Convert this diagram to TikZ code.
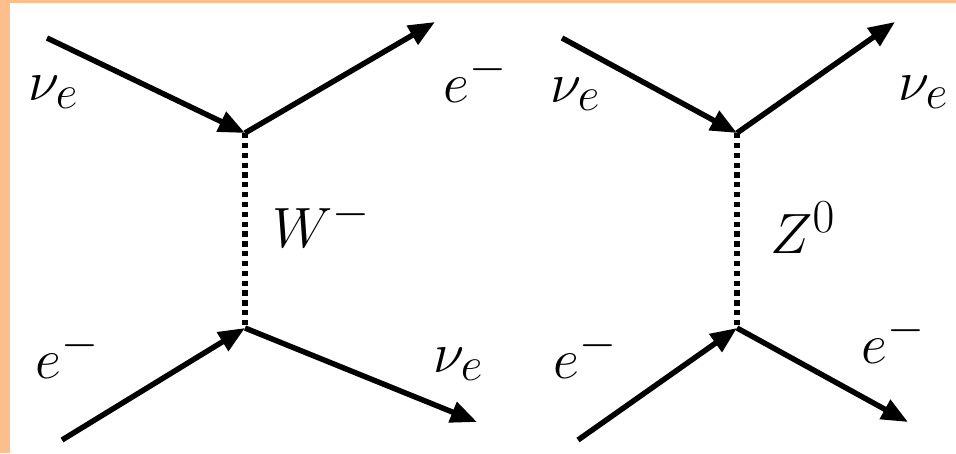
\documentclass[tikz,border=0pt]{standalone}
\usetikzlibrary{arrows.meta}
\definecolor{frameorange}{RGB}{252,190,140}
\begin{document}
\begin{tikzpicture}[
  x=0.02cm, y=-0.02cm,
  fermion/.style={line width=3.1pt, -{Triangle[length=15pt,width=12pt]}},
  boson/.style={line width=3.1pt, dash pattern=on 3pt off 2.6pt},
  lbl/.style={font=\Huge, scale=1.3, transform shape, inner sep=0pt, anchor=base west}
]
% frame
\fill[frameorange] (0,0) rectangle (956,453);
\fill[white] (10,3) rectangle (956,453);
\useasboundingbox (0,0) rectangle (956,453);

% left diagram: W exchange
\coordinate (wtop) at (245,133);
\coordinate (wbot) at (245,328);
\coordinate (wnuin) at (47,38);
\coordinate (weout) at (435,22);
\coordinate (wein) at (62,440);
\coordinate (wnuout) at (477,422);
\draw[fermion] (wnuin) -- (wtop);
\draw[fermion] (wtop) -- (weout);
\draw[fermion] (wein) -- (wbot);
\draw[fermion] (wbot) -- (wnuout);
\draw[boson] (wtop) -- (wbot);

\node[lbl] (wnuinlbl) at (28,100) {$\nu_e$};
\node[lbl] (weoutlbl) at (443,102) {$e^-$};
\node[lbl] (wlbl) at (272,247) {$W^-$};
\node[lbl] (weinlbl) at (35,378) {$e^-$};
\node[lbl] (wnuoutlbl) at (433,372) {$\nu_e$};

% right diagram: Z exchange
\coordinate (ztop) at (737,133);
\coordinate (zbot) at (737,328);
\coordinate (znuin) at (562,38);
\coordinate (znuout) at (895,22);
\coordinate (zein) at (578,440);
\coordinate (zeout) at (908,422);
\draw[fermion] (znuin) -- (ztop);
\draw[fermion] (ztop) -- (znuout);
\draw[fermion] (zein) -- (zbot);
\draw[fermion] (zbot) -- (zeout);
\draw[boson] (ztop) -- (zbot);

\node[lbl] (znuinlbl) at (550,102) {$\nu_e$};
\node[lbl] (znuoutlbl) at (898,100) {$\nu_e$};
\node[lbl] (zlbl) at (770,253) {$Z^0$};
\node[lbl] (zeinlbl) at (553,378) {$e^-$};
\node[lbl] (zeoutlbl) at (861,363) {$e^-$};
\end{tikzpicture}
\end{document}
